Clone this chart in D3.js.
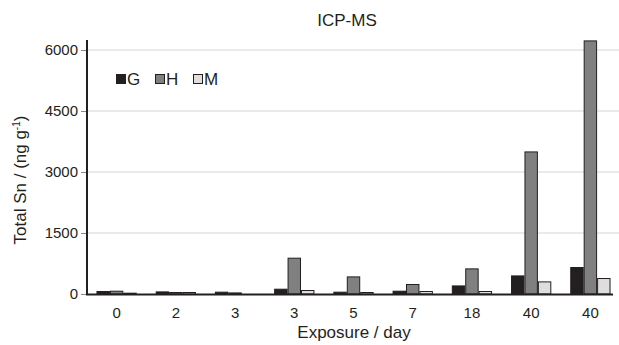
<!DOCTYPE html>
<html>
<head>
<meta charset="utf-8">
<title>ICP-MS</title>
<style>
  body { margin: 0; background: #fff; }
  svg text { font-family: "Liberation Sans", Arial, sans-serif; fill: #231f20; }
</style>
</head>
<body>
<svg width="619" height="345"></svg>
<script src="https://cdnjs.cloudflare.com/ajax/libs/d3/7.8.5/d3.min.js"></script>
<script>
// exposure days (some repeat, so the band scale uses indices)
var days = ["0", "2", "3", "3", "5", "7", "18", "40", "40"];
var seriesNames = ["G", "H", "M"];
var valuesG = [74, 64, 57, 130, 57, 81, 211, 457, 664];
var valuesH = [81, 49, 39, 893, 433, 246, 630, 3506, 6236];
var valuesM = [32, 49, 10, 98, 49, 74, 74, 310, 393];
var yTicks = [0, 1500, 3000, 4500, 6000];
var colors = ["#231f20", "#808080", "#dedede"];

var svg = d3.select("svg");
var plotLeft = 87, plotRight = 620, plotTop = 40, plotBottom = 294;

var x = d3.scaleBand()
    .domain(d3.range(days.length))
    .range([plotLeft, plotRight])
    .paddingInner(0.32)
    .paddingOuter(0.16);

var xs = d3.scaleBand()
    .domain(seriesNames)
    .range([0, x.bandwidth()]);

var y = d3.scaleLinear()
    .domain([0, 6000])
    .range([plotBottom, 50]);

// gridlines
svg.append("g")
  .selectAll("line")
  .data(yTicks.slice(1))
  .enter().append("line")
    .attr("x1", plotLeft)
    .attr("x2", 619)
    .attr("y1", function(d) { return y(d); })
    .attr("y2", function(d) { return y(d); })
    .attr("stroke", "#d4d4d4")
    .attr("stroke-width", 1);

// bars
var table = days.map(function(d, i) {
  return [valuesG[i], valuesH[i], valuesM[i]];
});

var groups = svg.append("g")
  .selectAll("g")
  .data(table)
  .enter().append("g")
    .attr("transform", function(d, i) { return "translate(" + x(i) + ",0)"; });

groups.selectAll("rect")
  .data(function(d) { return d.map(function(v, k) { return { k: k, v: v }; }); })
  .enter().append("rect")
    .attr("x", function(d) { return xs(seriesNames[d.k]) + 0.5; })
    .attr("y", function(d) { return y(d.v) + 0.5; })
    .attr("width", xs.bandwidth() - 1)
    .attr("height", function(d) { return Math.max(0, plotBottom - y(d.v) - 0.5); })
    .attr("fill", function(d) { return colors[d.k]; })
    .attr("stroke", "#231f20")
    .attr("stroke-width", 1);

// y axis
var yAxis = svg.append("g")
    .attr("transform", "translate(" + plotLeft + ",0)")
    .call(d3.axisLeft(y).tickValues(yTicks).tickFormat(d3.format("d"))
      .tickSize(6).tickSizeOuter(0).tickPadding(3));
yAxis.select(".domain").remove();
yAxis.selectAll(".tick line").attr("stroke", "#888");
yAxis.selectAll("text").attr("font-size", 15).attr("fill", "#231f20");
svg.append("line")
    .attr("x1", plotLeft).attr("x2", plotLeft)
    .attr("y1", plotTop).attr("y2", plotBottom + 1)
    .attr("stroke", "#231f20").attr("stroke-width", 2);

// x axis
var xAxis = svg.append("g")
    .attr("transform", "translate(0," + plotBottom + ")")
    .call(d3.axisBottom(x).tickFormat(function(i) { return days[i]; }).tickSize(0).tickPadding(13));
xAxis.select(".domain").remove();
xAxis.selectAll("text").attr("font-size", 15).attr("fill", "#231f20");
svg.append("line")
    .attr("x1", plotLeft - 1).attr("x2", 613)
    .attr("y1", plotBottom + 0.5).attr("y2", plotBottom + 0.5)
    .attr("stroke", "#231f20").attr("stroke-width", 2);

// title and axis labels
svg.append("text")
    .attr("x", 347).attr("y", 26)
    .attr("text-anchor", "middle")
    .attr("font-size", 17)
    .text("ICP-MS");

svg.append("text")
    .attr("x", 354).attr("y", 338)
    .attr("text-anchor", "middle")
    .attr("font-size", 17)
    .text("Exposure / day");

var yl = svg.append("text")
    .attr("transform", "translate(26,180) rotate(-90)")
    .attr("text-anchor", "middle")
    .attr("font-size", 17);
yl.append("tspan").text("Total Sn / (ng g");
yl.append("tspan").attr("dy", -6).attr("font-size", 10).text("-1");
yl.append("tspan").attr("dy", 6).text(")");

// legend
var legendX = [116, 155, 193];
var legend = svg.append("g")
  .selectAll("g")
  .data(seriesNames)
  .enter().append("g")
    .attr("transform", function(d, i) { return "translate(" + legendX[i] + ",74)"; });
legend.append("rect")
    .attr("x", 0.5).attr("y", 0.5)
    .attr("width", 9).attr("height", 9)
    .attr("fill", function(d, i) { return colors[i]; })
    .attr("stroke", "#231f20");
legend.append("text")
    .attr("x", 11).attr("y", 11)
    .attr("font-size", 17)
    .text(function(d) { return d; });
</script>
</body>
</html>
